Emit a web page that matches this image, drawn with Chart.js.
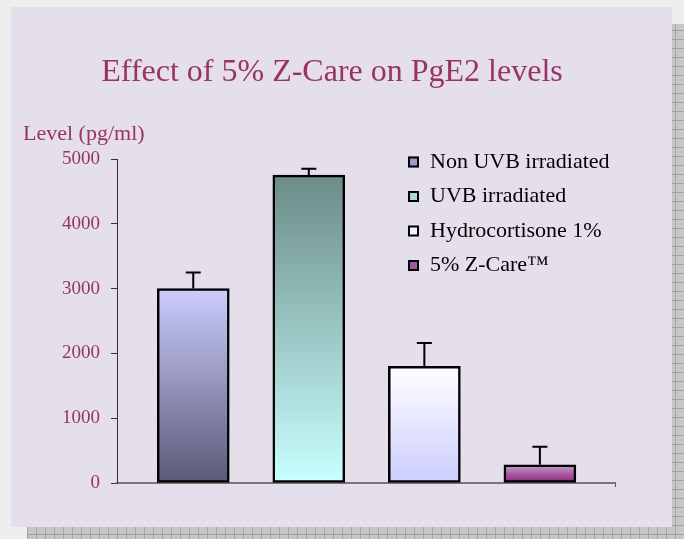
<!DOCTYPE html>
<html>
<head>
<meta charset="utf-8">
<script src="https://cdn.jsdelivr.net/npm/chart.js@4"></script>
<style>
html, body { margin:0; padding:0; width:684px; height:539px; overflow:hidden; background:#eeeeee; }
#shadow { position:absolute; left:27px; top:24px; width:661px; height:520px; background-color:#c6c6c6;
  background-image: repeating-linear-gradient(0deg, #a2a2a2 0 1px, transparent 1px 9px),
                    repeating-linear-gradient(90deg, #a2a2a2 0 1px, transparent 1px 9px); }
#panel { position:absolute; left:11px; top:7px; width:661px; height:520px; background:#e4dfeb; }
#radial { position:absolute; left:0; top:0; }
</style>
</head>
<body>
<div id="shadow"></div>
<div id="panel"></div>
<canvas id="radial" width="684" height="539"></canvas>
<script>
let radial = document.getElementById('radial');

let labels = ['Non UVB irradiated', 'UVB irradiated', 'Hydrocortisone 1%', '5% Z-Care\u2122'];
let values = [3000, 4750, 1800, 280];
let errors = [250, 100, 360, 280];
let yticks = [0, 1000, 2000, 3000, 4000, 5000];
let titleText = 'Effect of 5% Z-Care on PgE2 levels';
let yCaption = 'Level (pg/ml)';

let plum = '#993366';
let serif = '"Liberation Serif", "DejaVu Serif", serif';
let topColors = ['#ccccff', '#6c8c88', '#ffffff', '#cc99cc'];
let bottomColors = ['#5a5a76', '#c8ffff', '#ccccff', '#882277'];
let swatches = ['#9c9cc4', '#a8dcd0', '#f2f2ff', '#a05a9c'];

function fillFor(i) {
  return function(context) {
    let chart = context.chart;
    let y = chart.scales.y;
    if (!y || !chart.chartArea) return swatches[i];
    let g = chart.ctx.createLinearGradient(0, y.getPixelForValue(values[i]), 0, y.getPixelForValue(0));
    g.addColorStop(0, topColors[i]);
    g.addColorStop(1, bottomColors[i]);
    return g;
  };
}

// error bars, axis caption and legend
let extras = {
  id: 'extras',
  afterDatasetsDraw(chart) {
    let ctx = chart.ctx;
    let x = chart.scales.x;
    let y = chart.scales.y;
    let area = chart.chartArea;
    ctx.save();
    ctx.strokeStyle = '#000';
    ctx.lineWidth = 2;
    values.forEach((v, i) => {
      let px = x.getPixelForValue(i);
      let base = y.getPixelForValue(v);
      let top = y.getPixelForValue(v + errors[i]);
      ctx.beginPath();
      ctx.moveTo(px, base);
      ctx.lineTo(px, top);
      ctx.moveTo(px - 7.5, top);
      ctx.lineTo(px + 7.5, top);
      ctx.stroke();
    });

    ctx.fillStyle = plum;
    ctx.font = '22px ' + serif;
    ctx.textAlign = 'left';
    ctx.textBaseline = 'middle';
    ctx.fillText(yCaption, 23, area.top - 25);

    labels.forEach((label, i) => {
      let ly = area.top + 3 + i * 34.5;
      let lx = area.right - 207;
      ctx.fillStyle = swatches[i];
      ctx.fillRect(lx, ly - 5.5, 11, 11);
      ctx.strokeStyle = '#000';
      ctx.lineWidth = 2;
      ctx.strokeRect(lx + 1, ly - 4.5, 9, 9);
      ctx.fillStyle = '#000';
      ctx.fillText(label, lx + 22, ly);
    });
    ctx.restore();
  }
};

function drawChart() {
  myChart = new Chart(radial, {
    type: 'bar',
    data: {
      datasets: labels.map((label, i) => ({
        label: label,
        data: [{x: i, y: values[i]}],
        backgroundColor: fillFor(i),
        borderColor: '#000',
        borderWidth: 2.5,
        borderSkipped: false,
      }))
    },
    plugins: [extras],
    options: {
      animation: false,
      responsive: false,
      layout: { padding: { left: 49, right: 69, top: 0, bottom: 56 } },
      datasets: { bar: { barThickness: 72, grouped: false } },
      plugins: {
        legend: { display: false },
        tooltip: { enabled: false },
        title: {
          display: true,
          text: titleText,
          color: plum,
          font: { family: serif, size: 32, weight: 'normal' },
          padding: { top: 53, bottom: 67.6 },
        },
      },
      scales: {
        x: {
          type: 'linear',
          offset: false,
          min: -0.66,
          max: 3.65,
          afterBuildTicks: s => { s.ticks = [{value: s.max}]; },
          afterFit: s => { s.height = 0; },
          ticks: { display: false },
          grid: { drawOnChartArea: false, offset: false, tickLength: 4, tickColor: '#555' },
          border: { color: '#777', width: 2 },
        },
        y: {
          min: 0,
          max: 5000,
          afterBuildTicks: s => { s.ticks = yticks.map(v => ({value: v})); },
          afterFit: s => { s.width = 68; },
          ticks: { color: plum, font: { family: serif, size: 19 }, padding: 11, callback: v => String(v) },
          grid: { drawOnChartArea: false, tickLength: 6, tickColor: '#333' },
          border: { color: '#333', width: 1 },
        },
      },
    },
  });
}

drawChart();
</script>
</body>
</html>
